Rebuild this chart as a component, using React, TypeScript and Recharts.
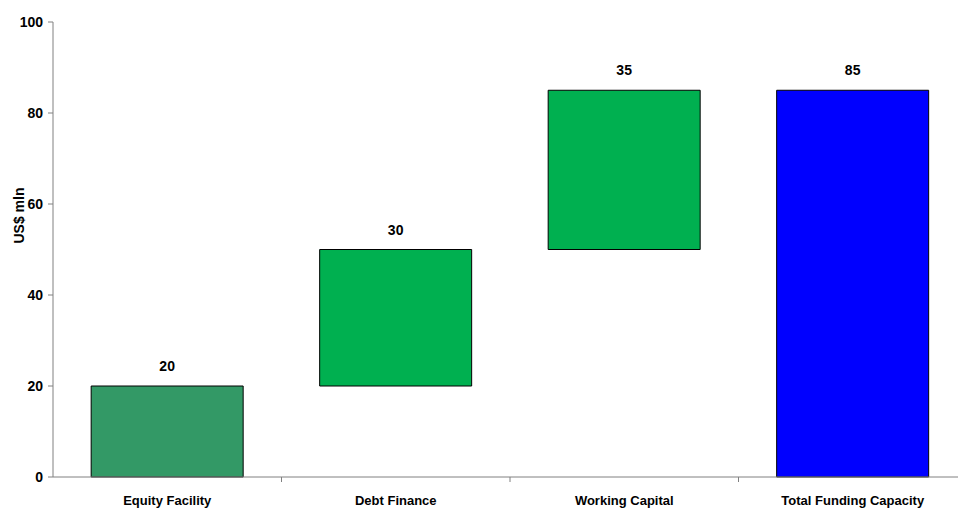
import React from "react"
import { BarChart, Bar, XAxis, YAxis, Cell, LabelList } from "recharts"

const categories = ["Equity Facility", "Debt Finance", "Working Capital", "Total Funding Capacity"]
const bases = [0, 20, 50, 0]
const amounts = [20, 30, 35, 85]
const colors = ["#339966", "#00B050", "#00B050", "#0000FF"]
const yTicks = [0, 20, 40, 60, 80, 100]

const FONT = "'Liberation Sans Narrow', 'Arial Narrow', 'Liberation Sans', Arial, sans-serif"
const TICK_SIZE = 5
const TICK_MARGIN = 14

const data = categories.map((name, i) => ({ name, base: bases[i], amount: amounts[i] }))

// category label plus a small separator tick at the right edge of each band
function CategoryTick(props: any) {
  const { x, y, payload, index } = props
  const axisY = y - TICK_SIZE - TICK_MARGIN
  const half = payload.offset || 0
  return (
    <g>
      {index < categories.length - 1 && (
        <line x1={x + half} x2={x + half} y1={axisY} y2={axisY + TICK_SIZE} stroke="#808080" />
      )}
      <text x={x} y={y} dy="0.71em" textAnchor="middle" fill="#000" fontSize={13} fontWeight="bold" fontFamily={FONT}>
        {payload.value}
      </text>
    </g>
  )
}

export default function App() {
  return (
    <div style={{ position: "absolute", left: 0, top: 0, width: 958, height: 511, overflow: "hidden", background: "#fff" }}>
      <BarChart
        width={967}
        height={511}
        data={data}
        margin={{ top: 22, right: 0, bottom: 4, left: 0 }}
        barCategoryGap="16.7%"
        style={{ fontFamily: FONT, fontWeight: "bold" }}
      >
        <XAxis
          dataKey="name"
          height={30}
          tickLine={false}
          tickSize={TICK_SIZE}
          tickMargin={TICK_MARGIN}
          axisLine={{ stroke: "#808080" }}
          tick={<CategoryTick />}
          interval={0}
        />
        <YAxis
          width={53}
          domain={[0, 100]}
          ticks={yTicks}
          tickSize={5}
          tickMargin={5}
          axisLine={{ stroke: "#808080" }}
          tickLine={{ stroke: "#808080" }}
          tick={{ fill: "#000", fontSize: 14, fontWeight: "bold", fontFamily: FONT }}
          label={{
            value: "US$ mln",
            angle: -90,
            position: "insideLeft",
            dx: 14,
            dy: -34,
            style: { fill: "#000", fontSize: 14, fontWeight: "bold", fontFamily: FONT, textAnchor: "middle" },
          }}
        />
        <Bar dataKey="base" stackId="w" fill="transparent" isAnimationActive={false} />
        <Bar dataKey="amount" stackId="w" stroke="#000" strokeWidth={1} isAnimationActive={false}>
          {data.map((d, i) => (
            <Cell key={d.name} fill={colors[i]} />
          ))}
          <LabelList dataKey="amount" position="top" offset={15} fill="#000" fontSize={14} fontWeight="bold" fontFamily={FONT} />
        </Bar>
      </BarChart>
    </div>
  )
}
